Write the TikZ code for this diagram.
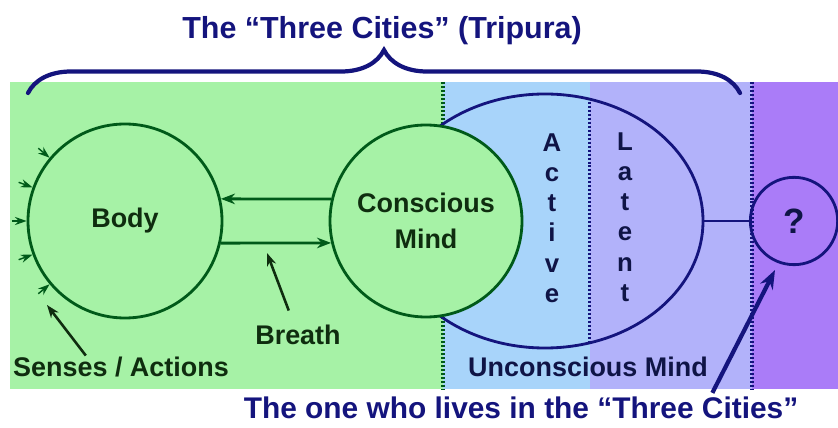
\documentclass[tikz,border=0pt]{standalone}
\usepackage{fontspec}
\setmainfont{Liberation Sans}
\usetikzlibrary{calc,arrows.meta,shapes.geometric,decorations.pathreplacing}
\definecolor{bodygreen}{RGB}{166,242,166}
\definecolor{activeblue}{RGB}{168,212,250}
\definecolor{latentblue}{RGB}{178,178,250}
\definecolor{selfpurple}{RGB}{170,124,248}
\definecolor{darkgreen}{RGB}{0,90,25}
\definecolor{inkgreen}{RGB}{15,45,15}
\definecolor{navy}{RGB}{20,20,125}
\definecolor{inknavy}{RGB}{15,20,70}

\begin{document}
\begin{tikzpicture}[x=0.03cm,y=-0.03cm,
    circ/.style={circle,draw=darkgreen,line width=2.4pt,fill=bodygreen,inner sep=0pt},
    word/.style={font=\bfseries\fontsize{23}{31}\selectfont,text=inkgreen,inner sep=1pt},
    vword/.style={font=\bfseries\fontsize{22}{25.8}\selectfont,text=inknavy,align=center},
    flow/.style={draw=darkgreen,line width=2.4pt,-{Stealth[length=12pt,width=9pt]}},
    sense/.style={draw=darkgreen,line width=1.2pt,-{Stealth[length=10pt,width=7pt]}},
    pointer/.style={draw=inkgreen,line width=2.2pt,-{Stealth[length=11pt,width=8pt]}},
    dots/.style={line width=2.6pt,dash pattern=on 1.7pt off 1.7pt}]
    \useasboundingbox (0,0) rectangle (838,428);
    %背景
    \fill[bodygreen](10,82)rectangle(443,389);
    \fill[activeblue](443,82)rectangle(590,389);
    \fill[latentblue](590,82)rectangle(752,389);
    \fill[selfpurple](752,82)rectangle(838,389);
    \path[draw=darkgreen,dots](443,82)to(443,389);
    \path[draw=navy,dots](752,82)to(752,389);
    %無意識
    \node[ellipse,draw=navy,line width=2.4pt,minimum width=9.48cm,minimum height=7.62cm,inner sep=0pt](uncon)at(545,221){};
    \path[draw=navy,dots](uncon.70)to(uncon.-70);
    \node[vword](active)at(552,218){A\\c\\t\\i\\v\\e};
    \node[vword](latent)at(625,217){L\\a\\t\\e\\n\\t};
    \node[word,text=inknavy](unconlbl)at(588,367){Unconscious Mind};
    %意識と身体
    \node[circ,minimum size=5.76cm,word,align=center,font=\bfseries\fontsize{23}{31}\selectfont](mind)at(426,221){Conscious\\Mind};
    \node[circ,minimum size=5.82cm,word](body)at(125,221){Body};
    \path[flow](mind.167)to(body.13);
    \path[flow](body.-13)to(mind.193);
    %感覚・行為
    \foreach \a in {140,160,180,200,220}
        \path[sense]($(body.center)!1.15!(body.\a)$)to(body.\a);
    \node[word](senses)at(121,367){Senses / Actions};
    \coordinate(sensetip)at(47,305);
    \path[pointer](senses.162)to(sensetip);
    %呼吸
    \node[word](breath)at(298,335){Breath};
    \coordinate(breathtip)at(267,253);
    \path[pointer,shorten <=12pt](breath)to(breathtip);
    %？
    \node[circle,draw=navy,line width=2.4pt,minimum size=2.62cm,inner sep=0pt,font=\bfseries\fontsize{30}{30}\selectfont,text=inknavy](q)at(794,221){?};
    \path[draw=navy,line width=2.4pt](uncon.east)to(q.west);
    %三つの都
    \node[font=\bfseries\fontsize{26}{30}\selectfont,text=navy](title)at(382,31){The “Three Cities” (Tripura)};
    \coordinate(bl)at(28,93);
    \coordinate(br)at(740,93);
    \path[draw=navy,line width=3.6pt,line cap=round,decorate,decoration={brace,amplitude=1.29cm}](bl)to(br);
    \node[font=\bfseries\fontsize{25.5}{30}\selectfont,text=navy](who)at(521,408){The one who lives in the “Three Cities”};
    \coordinate(whotip)at(775,270);
    \path[draw=navy,line width=3.6pt,-{Stealth[length=16pt,width=12pt]}]($(who.north west)!0.84!(who.north east)$)to(whotip);
\end{tikzpicture}
\end{document}
